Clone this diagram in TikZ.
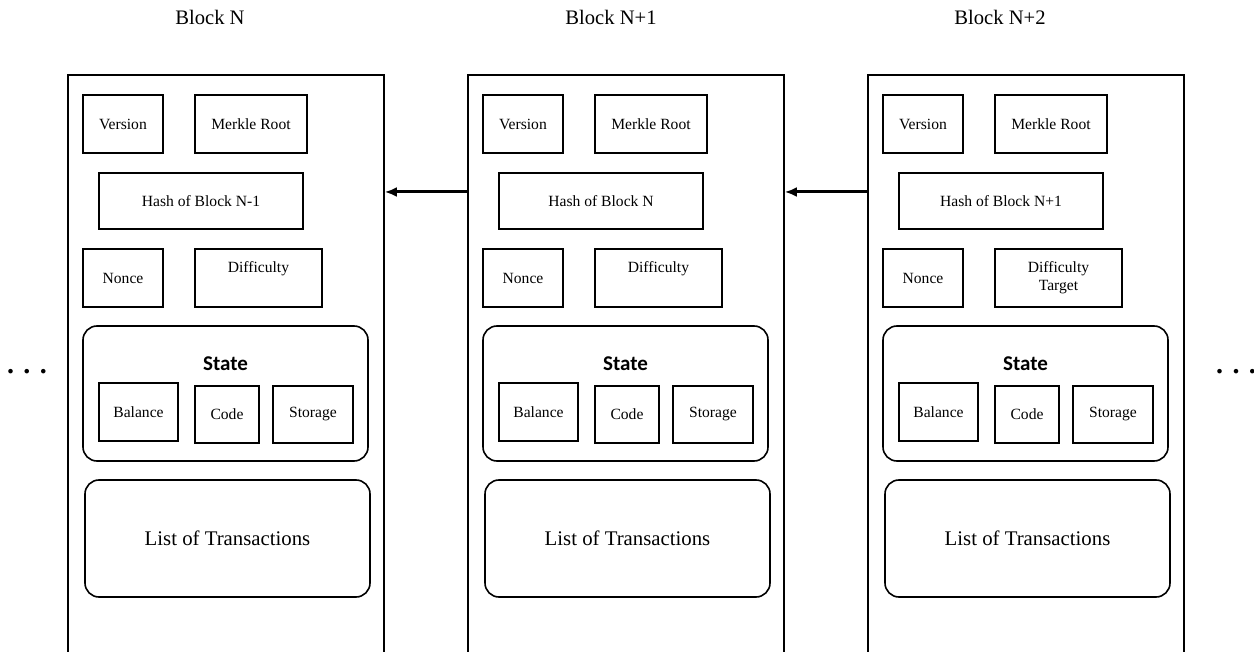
\documentclass[tikz,border=0pt]{standalone}
\usepackage{fontspec}
\setmainfont{Liberation Serif}
\newfontfamily\statefont{Carlito}
\usetikzlibrary{arrows.meta}
\newlength\px
\setlength\px{0.5pt}

\begin{document}
\begin{tikzpicture}[
	x=0.5pt, y=-0.5pt,
	blockbox/.style={
		draw, line width=0.8pt, inner sep=0pt,
		minimum width=316\px, minimum height=640\px
	},
	field/.style={
		draw, line width=0.8pt, inner sep=0pt, align=center,
		font=\fontsize{7.8}{9}\selectfont
	},
	group/.style={draw, line width=0.8pt, rounded corners=7pt, inner sep=0pt},
	ttl/.style={font=\fontsize{10.3}{12}\selectfont},
	arr/.style={-{Latex[length=6pt,width=5pt]}, line width=1.5pt},
	]
	\clip (0,0) rectangle (1254,652);
	\foreach \i/\tx/\blk/\prev/\diff in {
		0/210/N/N-1/{Difficulty\\\phantom{Target}},
		1/611/N+1/N/{Difficulty\\\phantom{Target}},
		2/1000/N+2/N+1/{Difficulty\\Target}} {
		\node[ttl] (ttl\i) at (\tx,17) {Block \blk};
		\begin{scope}[shift={(400*\i,0)}]
			\node[blockbox] (blk\i) at (226,395) {};
			% header fields
			\node[field, minimum width=80\px, minimum height=58\px] (ver\i) at (123,124) {Version};
			\node[field, minimum width=112\px, minimum height=58\px] (mrk\i) at (251,124) {Merkle Root};
			\node[field, minimum width=204\px, minimum height=56\px] (hash\i) at (201,201) {Hash of Block \prev};
			\node[field, minimum width=80\px, minimum height=58\px] (nonce\i) at (123,278) {Nonce};
			\node[field, minimum width=127\px, minimum height=58\px] (diff\i) at (258.5,278) {\diff};
			% state
			\node[group, minimum width=285\px, minimum height=135\px] (state\i) at (225.5,393.5) {};
			\node[font=\statefont\bfseries\fontsize{10.5}{12}\selectfont] (sttl\i) at (225.5,364) {State};
			\node[field, minimum width=79\px, minimum height=58\px] (bal\i) at (138.5,412) {Balance};
			\node[field, minimum width=64\px, minimum height=57\px] (code\i) at (227,414.5) {Code};
			\node[field, minimum width=80\px, minimum height=57\px] (stor\i) at (313,414.5) {Storage};
			% transactions
			\node[group, minimum width=285\px, minimum height=117\px,
				font=\fontsize{10.4}{12}\selectfont] (txs\i) at (227.5,538.5) {List of Transactions};
		\end{scope}
	}
	\coordinate (lvl) at (0,192);
	\draw[arr] (blk1.west |- lvl) -- (blk0.east |- lvl);
	\draw[arr] (blk2.west |- lvl) -- (blk1.east |- lvl);
	\node[font=\fontsize{14}{14}\bfseries\selectfont] (dotsl) at (27,372) {. . .};
	\node[font=\fontsize{14}{14}\bfseries\selectfont] (dotsr) at (1236,372) {. . .};
\end{tikzpicture}
\end{document}
